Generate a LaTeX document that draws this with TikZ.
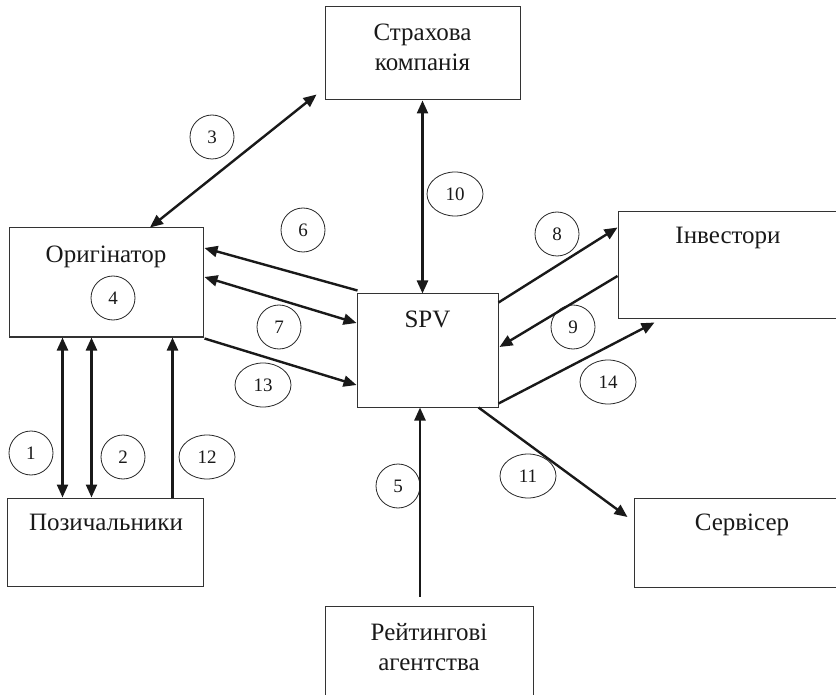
\documentclass[tikz,border=0pt]{standalone}
\usepackage{fontspec}
\setmainfont{Liberation Serif}
\usetikzlibrary{arrows.meta,calc,shapes.geometric}
\begin{document}
\begin{tikzpicture}[x=1pt,y=-1pt,
  box/.style={draw=black!80, line width=1pt, rectangle, inner sep=0pt},
  lbl/.style={font=\fontsize{25}{30}\selectfont, inner sep=0pt, anchor=base, text=black!90},
  numc/.style={draw=black!85, line width=0.8pt, circle, minimum size=44pt, inner sep=0pt, font=\fontsize{19}{20}\selectfont, text=black!90},
  nume/.style={draw=black!85, line width=0.8pt, ellipse, minimum width=56pt, minimum height=44pt, inner sep=0pt, font=\fontsize{19}{20}\selectfont, text=black!90},
  tip/.tip={Triangle[length=13pt,width=11pt]},
  arr/.style={line width=2.4pt, draw=black!90, -tip},
  darr/.style={line width=2.4pt, draw=black!90, tip-tip}]
\useasboundingbox (0,0) rectangle (836,695);
\clip (0,0) rectangle (836,695);

% boxes
\node[box, minimum width=195pt, minimum height=93pt] (ins) at (422.5,53.5) {};
\node[box, minimum width=194pt, minimum height=109pt] (orig) at (106,282.5) {};
\node[box, minimum width=141pt, minimum height=113pt] (spv) at (427.5,350.5) {};
\node[box, minimum width=230pt, minimum height=107pt] (inv) at (733,265.5) {};
\node[box, minimum width=220pt, minimum height=89pt] (serv) at (744,542.5) {};
\node[box, minimum width=196pt, minimum height=88pt] (borr) at (105,542) {};
\node[box, minimum width=208pt, minimum height=93pt] (rate) at (429,652.5) {};

% texts
\node[lbl] (tins1) at (422.5,41) {Страхова};
\node[lbl] (tins2) at (422.5,71) {компанія};
\node[lbl] (torig) at (106,263) {Оригінатор};
\node[lbl] (tspv) at (427.5,327) {SPV};
\node[lbl] (tinv) at (728,244) {Інвестори};
\node[lbl] (tborr) at (106,530) {Позичальники};
\node[lbl] (tserv) at (742,530) {Сервісер};
\node[lbl] (trate1) at (429,640) {Рейтингові};
\node[lbl] (trate2) at (429,670) {агентства};

% number markers
\node[numc] (n1) at (31,453) {1};
\node[numc] (n2) at (123,457) {2};
\node[numc] (n3) at (212,137) {3};
\node[numc] (n4) at (113,298) {4};
\node[numc] (n5) at (398,486) {5};
\node[numc] (n6) at (303,230) {6};
\node[numc] (n7) at (279,327) {7};
\node[numc] (n8) at (557,234) {8};
\node[numc] (n9) at (573,327) {9};
\node[nume] (n10) at (455,194) {10};
\node[nume] (n11) at (528,476) {11};
\node[nume] (n12) at (207,457) {12};
\node[nume] (n13) at (263,385) {13};
\node[nume] (n14) at (608,382) {14};

% connectors
\draw[darr] ($(ins.south west)+(-8,-6)$) -- ($(orig.north)+(44,0)$);
\draw[darr] (ins.south) -- (ins.south |- spv.north);
\draw[arr] ($(rate.north)+(-9,-9)$) -- ($(spv.south)+(-7.5,0)$);
\draw[arr] ($(spv.north west)+(1,-3)$) -- ($(orig.east)+(1,-34.5)$);
\draw[darr] ($(orig.east)+(1,-5.5)$) -- ($(spv.west)+(0,-27.5)$);
\draw[arr] ($(orig.south east)+(1,1)$) -- ($(spv.west)+(0,34.5)$);
\draw[darr] ($(orig.south west)+(54,0)$) -- ($(borr.north west)+(56,0)$);
\draw[darr] ($(orig.south west)+(83,0)$) -- ($(borr.north west)+(85,0)$);
\draw[arr] ($(borr.north west)+(166,0)$) -- ($(orig.south west)+(164,0)$);
\draw[arr] ($(spv.north east)+(0,9)$) -- ($(inv.north west)+(0,16)$);
\draw[arr] ($(inv.west)+(0,10.5)$) -- ($(spv.east)+(1,-3.5)$);
\draw[arr] ($(spv.south east)+(0,-4)$) -- ($(inv.south west)+(37,3)$);
\draw[arr] ($(spv.south east)+(-20,0)$) -- ($(serv.west)+(-6,-25.5)$);
\end{tikzpicture}
\end{document}
